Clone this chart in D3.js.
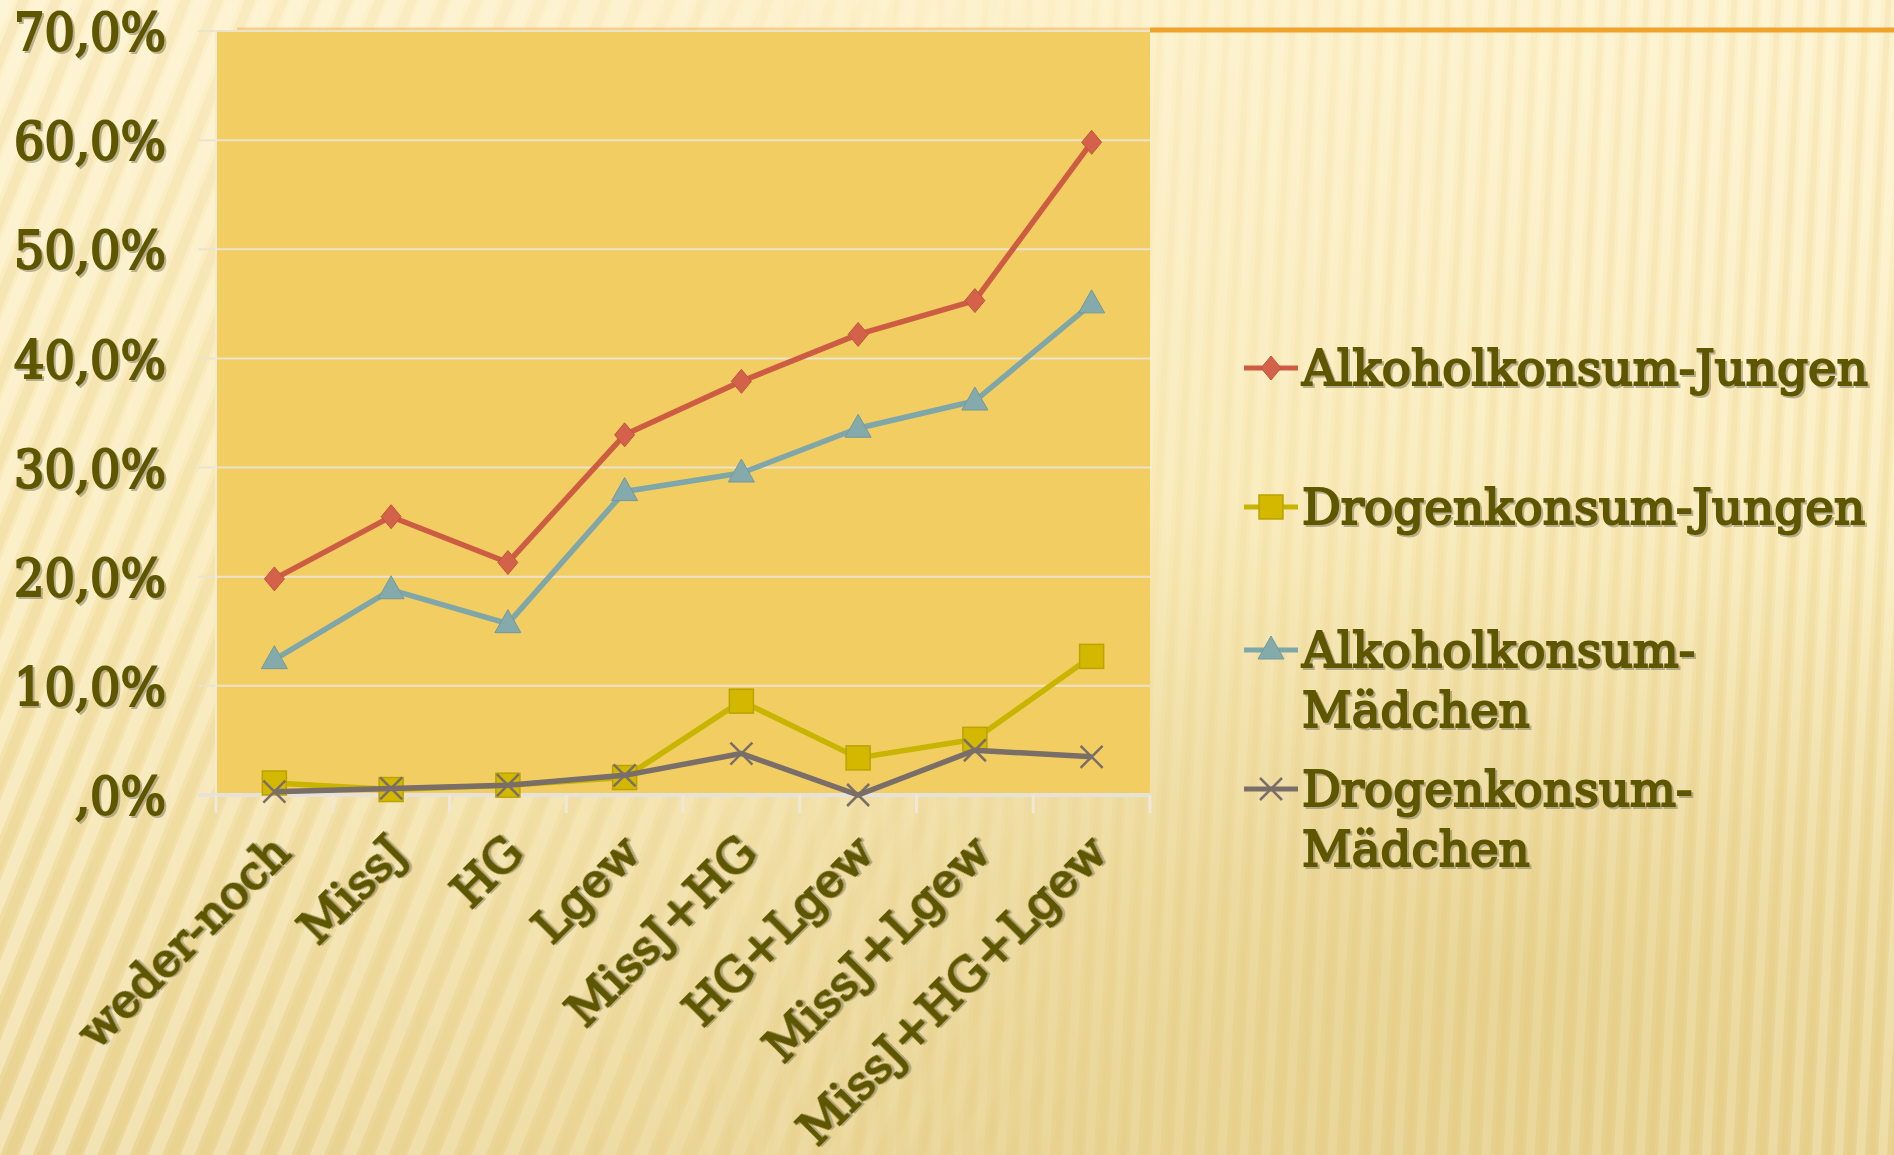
<!DOCTYPE html>
<html><head><meta charset="utf-8">
<script src="https://cdn.jsdelivr.net/npm/d3@7"></script>
<style>
html,body{margin:0;padding:0;background:#f6e4ad;}
svg{display:block;}
.lbl{font-family:"DejaVu Serif",serif;font-weight:normal;fill:#5f5600;
 stroke:#5f5600;stroke-width:2.1px;paint-order:stroke;
 filter:drop-shadow(2px 2px 0 rgba(130,125,100,0.55));}
.cond{font-family:"DejaVu Serif Condensed","DejaVu Serif",serif;}
</style></head>
<body>
<svg id="chart" width="1894" height="1155"></svg>
<script>
const categories = ["weder-noch","MissJ","HG","Lgew","MissJ+HG","HG+Lgew","MissJ+Lgew","MissJ+HG+Lgew"];
const seriesNames = ["Alkoholkonsum-Jungen","Drogenkonsum-Jungen","Alkoholkonsum-Mädchen","Drogenkonsum-Mädchen"];
const alkJungen   = [19.8, 25.5, 21.3, 33.0, 37.9, 42.2, 45.3, 59.8];
const drogJungen  = [1.1, 0.5, 0.9, 1.6, 8.6, 3.4, 5.1, 12.7];
const alkMaedchen = [12.4, 18.8, 15.7, 27.8, 29.5, 33.6, 36.1, 45.0];
const drogMaedchen= [0.3, 0.6, 0.9, 1.8, 3.8, 0.0, 4.1, 3.5];
const yTicks = [0,10,20,30,40,50,60,70];
const yTickLabels = [",0%","10,0%","20,0%","30,0%","40,0%","50,0%","60,0%","70,0%"];

const colors = ["#cc5c42","#c9b400","#7fa6a8","#7a6e68"];
const markers = ["diamond","square","triangle","cross"];
const seriesData = [alkJungen, drogJungen, alkMaedchen, drogMaedchen];
const drawOrder = [1,3,2,0];

const W=1894,H=1155;
const svg=d3.select("#chart");
const defs=svg.append("defs");

function fitSize(str,target,cls){
  const t=svg.append("text").attr("class","lbl "+(cls||"")).attr("font-size",100).text(str);
  const w=t.node().getComputedTextLength(); t.remove();
  return 100*target/w;
}

// background
const lg=defs.append("linearGradient").attr("id","bgGrad").attr("x1",0).attr("y1",0).attr("x2",0).attr("y2",1);
lg.append("stop").attr("offset","0%").attr("stop-color","#fdf1cb");
lg.append("stop").attr("offset","50%").attr("stop-color","#f8e8b4");
lg.append("stop").attr("offset","100%").attr("stop-color","#ebd697");
const pat=defs.append("pattern").attr("id","stripes").attr("patternUnits","userSpaceOnUse")
  .attr("width",30).attr("height",40).attr("patternTransform","rotate(22)");
pat.append("rect").attr("x",0).attr("width",13).attr("height",40).attr("fill","#fffae6").attr("opacity",0.4);
pat.append("rect").attr("x",17).attr("width",10).attr("height",40).attr("fill","#d8b95a").attr("opacity",0.12);
const pat2=defs.append("pattern").attr("id","stripes2").attr("patternUnits","userSpaceOnUse")
  .attr("width",22).attr("height",40).attr("patternTransform","rotate(3)");
pat2.append("rect").attr("x",0).attr("width",9).attr("height",40).attr("fill","#fffae6").attr("opacity",0.35);
pat2.append("rect").attr("x",13).attr("width",6).attr("height",40).attr("fill","#d8b95a").attr("opacity",0.11);
const rg=defs.append("radialGradient").attr("id","shade").attr("cx",0.8).attr("cy",0.85).attr("r",0.45);
rg.append("stop").attr("offset","0%").attr("stop-color","#d8bd6c").attr("stop-opacity",0.35);
rg.append("stop").attr("offset","100%").attr("stop-color","#d8bd6c").attr("stop-opacity",0);
const maskG=defs.append("linearGradient").attr("id","mg").attr("x1",0).attr("x2",1);
maskG.append("stop").attr("offset","0%").attr("stop-color","#fff");
maskG.append("stop").attr("offset","60%").attr("stop-color","#000");
defs.append("mask").attr("id","leftMask").append("rect").attr("width",W).attr("height",H).attr("fill","url(#mg)");
const maskG2=defs.append("linearGradient").attr("id","mg2").attr("x1",0).attr("x2",1);
maskG2.append("stop").attr("offset","30%").attr("stop-color","#000");
maskG2.append("stop").attr("offset","100%").attr("stop-color","#fff");
defs.append("mask").attr("id","rightMask").append("rect").attr("width",W).attr("height",H).attr("fill","url(#mg2)");

svg.append("rect").attr("width",W).attr("height",H).attr("fill","url(#bgGrad)");
svg.append("rect").attr("width",W).attr("height",H).attr("fill","url(#stripes)").attr("mask","url(#leftMask)");
svg.append("rect").attr("width",W).attr("height",H).attr("fill","url(#stripes2)").attr("mask","url(#rightMask)");
svg.append("rect").attr("width",W).attr("height",H).attr("fill","url(#shade)");

const plot={left:216,right:1150,top:31,bottom:795};

svg.append("line").attr("x1",237).attr("x2",plot.right).attr("y1",29).attr("y2",29)
  .attr("stroke","#f0b850").attr("stroke-width",3).attr("opacity",0.55);
svg.append("line").attr("x1",plot.right).attr("x2",W).attr("y1",30).attr("y2",30)
  .attr("stroke","#efa22c").attr("stroke-width",5);

const x=d3.scaleBand().domain(categories).range([plot.left,plot.right]);
const y=d3.scaleLinear().domain([0,70]).range([plot.bottom,plot.top]);

svg.append("rect").attr("x",plot.left).attr("y",plot.top).attr("width",plot.right-plot.left)
  .attr("height",plot.bottom-plot.top).attr("fill","#f2cd62");

svg.append("g").selectAll("line").data(yTicks.slice(1)).join("line")
  .attr("x1",plot.left-18).attr("x2",plot.right).attr("y1",d=>y(d)).attr("y2",d=>y(d))
  .attr("stroke","#ece3cc").attr("stroke-width",2);
svg.append("line").attr("x1",plot.left).attr("x2",plot.left).attr("y1",plot.top).attr("y2",plot.bottom)
  .attr("stroke","#f3ead2").attr("stroke-width",2);

const xAxis=d3.axisBottom(x).tickSize(0).tickFormat("");
const gx=svg.append("g").attr("transform",`translate(0,${plot.bottom})`).call(xAxis);
gx.select(".domain").remove();
svg.append("line").attr("x1",plot.left-18).attr("x2",plot.right).attr("y1",plot.bottom).attr("y2",plot.bottom)
  .attr("stroke","#e6e2da").attr("stroke-width",4);
const bounds=categories.map(c=>x(c)).concat([plot.right]);
svg.append("g").selectAll("line").data(bounds).join("line")
  .attr("x1",d=>d).attr("x2",d=>d).attr("y1",plot.bottom).attr("y2",plot.bottom+18)
  .attr("stroke","#efe8d8").attr("stroke-width",3);

// y labels
const ySize=fitSize("70,0%",152,"cond");
svg.append("g").selectAll("text").data(yTicks).join("text").attr("class","lbl cond")
  .attr("x",166).attr("y",d=>y(d)).attr("dy","0.36em").attr("text-anchor","end")
  .attr("font-size",ySize).text((d,i)=>yTickLabels[i]);

// x labels
const xSize=(fitSize("weder-noch",292)+fitSize("MissJ+HG+Lgew",392))/2;
svg.append("g").selectAll("text").data(categories).join("text").attr("class","lbl")
  .attr("font-size",xSize).attr("text-anchor","end")
  .attr("transform",d=>`translate(${x(d)+x.bandwidth()/2+18},${plot.bottom+60}) rotate(-45)`)
  .text(d=>d);

const line=d3.line().x((d,i)=>x(categories[i])+x.bandwidth()/2).y(d=>y(d));
function drawMarker(g,type,color,cx,cy){
  if(type==="diamond"){
    g.append("path").attr("d",`M${cx},${cy-12}L${cx+10},${cy}L${cx},${cy+12}L${cx-10},${cy}Z`)
     .attr("fill","#d4614a").attr("stroke","#c0553e").attr("stroke-width",1);
  } else if(type==="square"){
    g.append("rect").attr("x",cx-12).attr("y",cy-12).attr("width",24).attr("height",24)
     .attr("fill","#d4b800").attr("stroke","#bba300").attr("stroke-width",1.5);
  } else if(type==="triangle"){
    g.append("path").attr("d",`M${cx},${cy-14}L${cx+13},${cy+9}L${cx-13},${cy+9}Z`)
     .attr("fill","#84aaac").attr("stroke","#74999b").attr("stroke-width",1);
  } else {
    g.append("path").attr("d",`M${cx-11},${cy-11}L${cx+11},${cy+11}M${cx-11},${cy+11}L${cx+11},${cy-11}`)
     .attr("stroke",color).attr("stroke-width",2.5).attr("fill","none");
  }
}
drawOrder.forEach(si=>{
  const g=svg.append("g");
  g.append("path").datum(seriesData[si]).attr("d",line).attr("fill","none")
    .attr("stroke",colors[si]).attr("stroke-width",5.5).attr("stroke-linejoin","round");
  seriesData[si].forEach((v,i)=>drawMarker(g,markers[si],colors[si],x(categories[i])+x.bandwidth()/2,y(v)));
});

const legendRows=[
  {s:0,lines:["Alkoholkonsum-Jungen"],y:368},
  {s:1,lines:["Drogenkonsum-Jungen"],y:507},
  {s:2,lines:["Alkoholkonsum-","Mädchen"],y:650},
  {s:3,lines:["Drogenkonsum-","Mädchen"],y:789}
];
const lSize=fitSize("Alkoholkonsum-Jungen",566);
const lgG=svg.append("g");
legendRows.forEach(r=>{
  const g=lgG.append("g");
  g.append("line").attr("x1",1244).attr("x2",1298).attr("y1",r.y).attr("y2",r.y)
    .attr("stroke",colors[r.s]).attr("stroke-width",5);
  drawMarker(g,markers[r.s],colors[r.s],1271,r.y);
  const t=g.append("text").attr("class","lbl").attr("font-size",lSize).attr("x",1302).attr("y",r.y);
  r.lines.forEach((l,i)=>t.append("tspan").attr("x",1302).attr("dy",i===0?"0.36em":(60/lSize)+"em").text(l));
});
</script>
</body></html>
